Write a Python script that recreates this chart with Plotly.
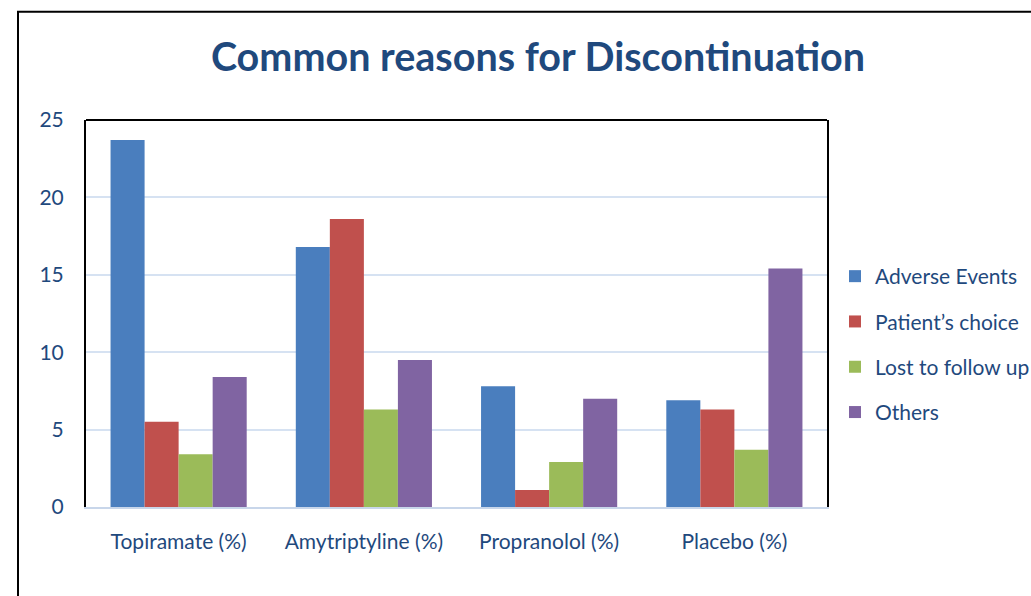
import plotly.graph_objects as go

categories = ["Topiramate (%)", "Amytriptyline (%)", "Propranolol (%)", "Placebo (%)"]
adverse_events = [23.7, 16.8, 7.8, 6.9]
patients_choice = [5.5, 18.6, 1.1, 6.3]
lost_to_follow_up = [3.4, 6.3, 2.9, 3.7]
others = [8.4, 9.5, 7.0, 15.4]
y_ticks = [0, 5, 10, 15, 20, 25]

series = [
    ("Adverse Events", adverse_events, "#4A7EBE"),
    ("Patient\u2019s choice", patients_choice, "#C0504D"),
    ("Lost to follow up", lost_to_follow_up, "#9BBB59"),
    ("Others", others, "#8064A2"),
]

TXT = "#1F497D"
FONT = "Lato"
FS = 21

fig = go.Figure()
for i, (name, vals, col) in enumerate(series):
    fig.add_trace(go.Bar(x=categories, y=vals, name=name, marker_color=col,
                         marker_line_width=0, legendgroup=f"g{i}"))

L, R, T, B = 86, 827, 119.5, 507.5
W, H = R - L, B - T
def px(x):
    return (x - L) / W
def py(y):
    return (B - y) / H

fig.update_layout(
    width=1031, height=596,
    margin=dict(l=L, r=1031 - R, t=T, b=596 - B, pad=0, autoexpand=False),
    paper_bgcolor="white", plot_bgcolor="white",
    barmode="group", bargap=0.265, bargroupgap=0,
    font=dict(family=FONT, color=TXT, size=FS),
    title=dict(text="<b>Common reasons for Discontinuation</b>",
               font=dict(family=FONT, size=39.5, color=TXT),
               x=538 / 1031, xanchor="center", y=1 - 57 / 596, yanchor="middle"),
    legend=dict(xref="container", yref="container",
                x=835 / 1031, xanchor="left", y=1 - 256 / 596, yanchor="top",
                font=dict(family=FONT, size=FS, color=TXT),
                tracegroupgap=15, bgcolor="rgba(0,0,0,0)"),
    xaxis=dict(showgrid=False, showline=True, linecolor="#C8D6EA", linewidth=2,
               ticks="", ticklabelstandoff=15, tickfont=dict(size=FS, color=TXT)),
    yaxis=dict(range=[0, 25], tickvals=y_ticks, showgrid=True, gridcolor="#D6E2F2",
               gridwidth=2, showline=True, linecolor="black", linewidth=2, mirror=True,
               ticks="", ticklabelstandoff=16, zeroline=False,
               tickfont=dict(size=FS, color=TXT)),
    showlegend=True,
)

# top border of plot area
fig.add_shape(type="line", xref="paper", yref="paper", x0=0, x1=1, y0=1, y1=1,
              line=dict(color="black", width=2))
# outer chart border
fig.add_shape(type="rect", xref="paper", yref="paper",
              x0=px(18), x1=px(1045), y0=py(610), y1=py(11),
              line=dict(color="black", width=2), layer="above")

fig.write_html("out.html")
